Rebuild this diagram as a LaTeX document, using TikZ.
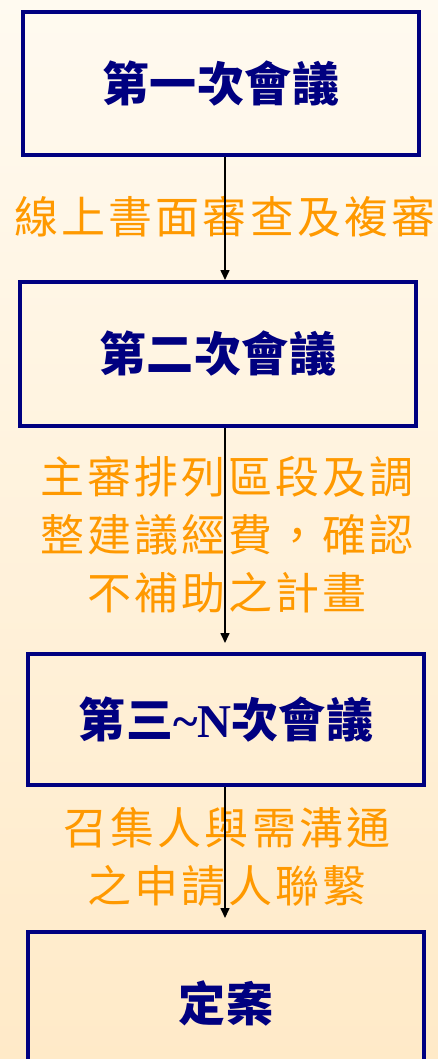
\documentclass[tikz,border=0pt]{standalone}
\usepackage{fontspec}
\usepackage{xcolor}
\usepackage{tikz}
\usetikzlibrary{arrows.meta,positioning}
\setmainfont{Noto Sans CJK TC}
\newfontfamily\meetfont[LetterSpace=1]{Noto Sans CJK TC}
\newfontfamily\remarkfont[LetterSpace=7]{Noto Sans CJK TC}
\newfontfamily\latinfont{Liberation Serif}
\definecolor{navy}{RGB}{0,0,128}
\definecolor{remarkcolor}{RGB}{255,153,0}
\definecolor{bgtop}{RGB}{255,250,240}
\definecolor{bgbot}{RGB}{255,234,200}

\begin{document}
\begin{tikzpicture}[
    x=1pt, y=-1pt,
    meeting/.style={draw=navy,line width=4pt,minimum width=396pt,inner sep=0pt,text=navy,font=\meetfont\bfseries\fontsize{47}{52}\selectfont},
    remark/.style={text=remarkcolor,align=center,inner sep=0pt,font=\remarkfont\fontsize{44}{58}\selectfont},
    flow/.style={-{Triangle[length=10pt,width=9pt]},line width=1.6pt,black}
]
\useasboundingbox (0,0) rectangle (438,1059);
\clip (0,0) rectangle (438,1059);
\shade[top color=bgtop,bottom color=bgbot] (0,0) rectangle (438,1059);
% notes between the meetings
\node[remark] (n1) at (225,217) {線上書面審查及複審};
\node[remark] (n2) at (227,535) {主審排列區段及調\\整建議經費，確認\\不補助之計畫};
\node[remark] (n3) at (227,856.5) {召集人與需溝通\\之申請人聯繫};
% meetings
\node[meeting,minimum height=143pt] (m1) at (221,83.5) {第一次會議};
\node[meeting,minimum height=144pt] (m2) at (218,354) {第二次會議};
\node[meeting,minimum height=131pt] (m3) at (226,719.5) {第三{\latinfont\bfseries\textasciitilde N}次會議};
\node[meeting,minimum height=143pt] (m4) at (226,1003.5) {定案};
% flow
\coordinate (spine) at (225,0);
\draw[flow] (m1.south -| spine) -- (m2.north -| spine);
\draw[flow,shorten >=9pt] (m2.south -| spine) -- (m3.north -| spine);
\draw[flow,shorten >=12pt] (m3.south -| spine) -- (m4.north -| spine);
\end{tikzpicture}
\end{document}
